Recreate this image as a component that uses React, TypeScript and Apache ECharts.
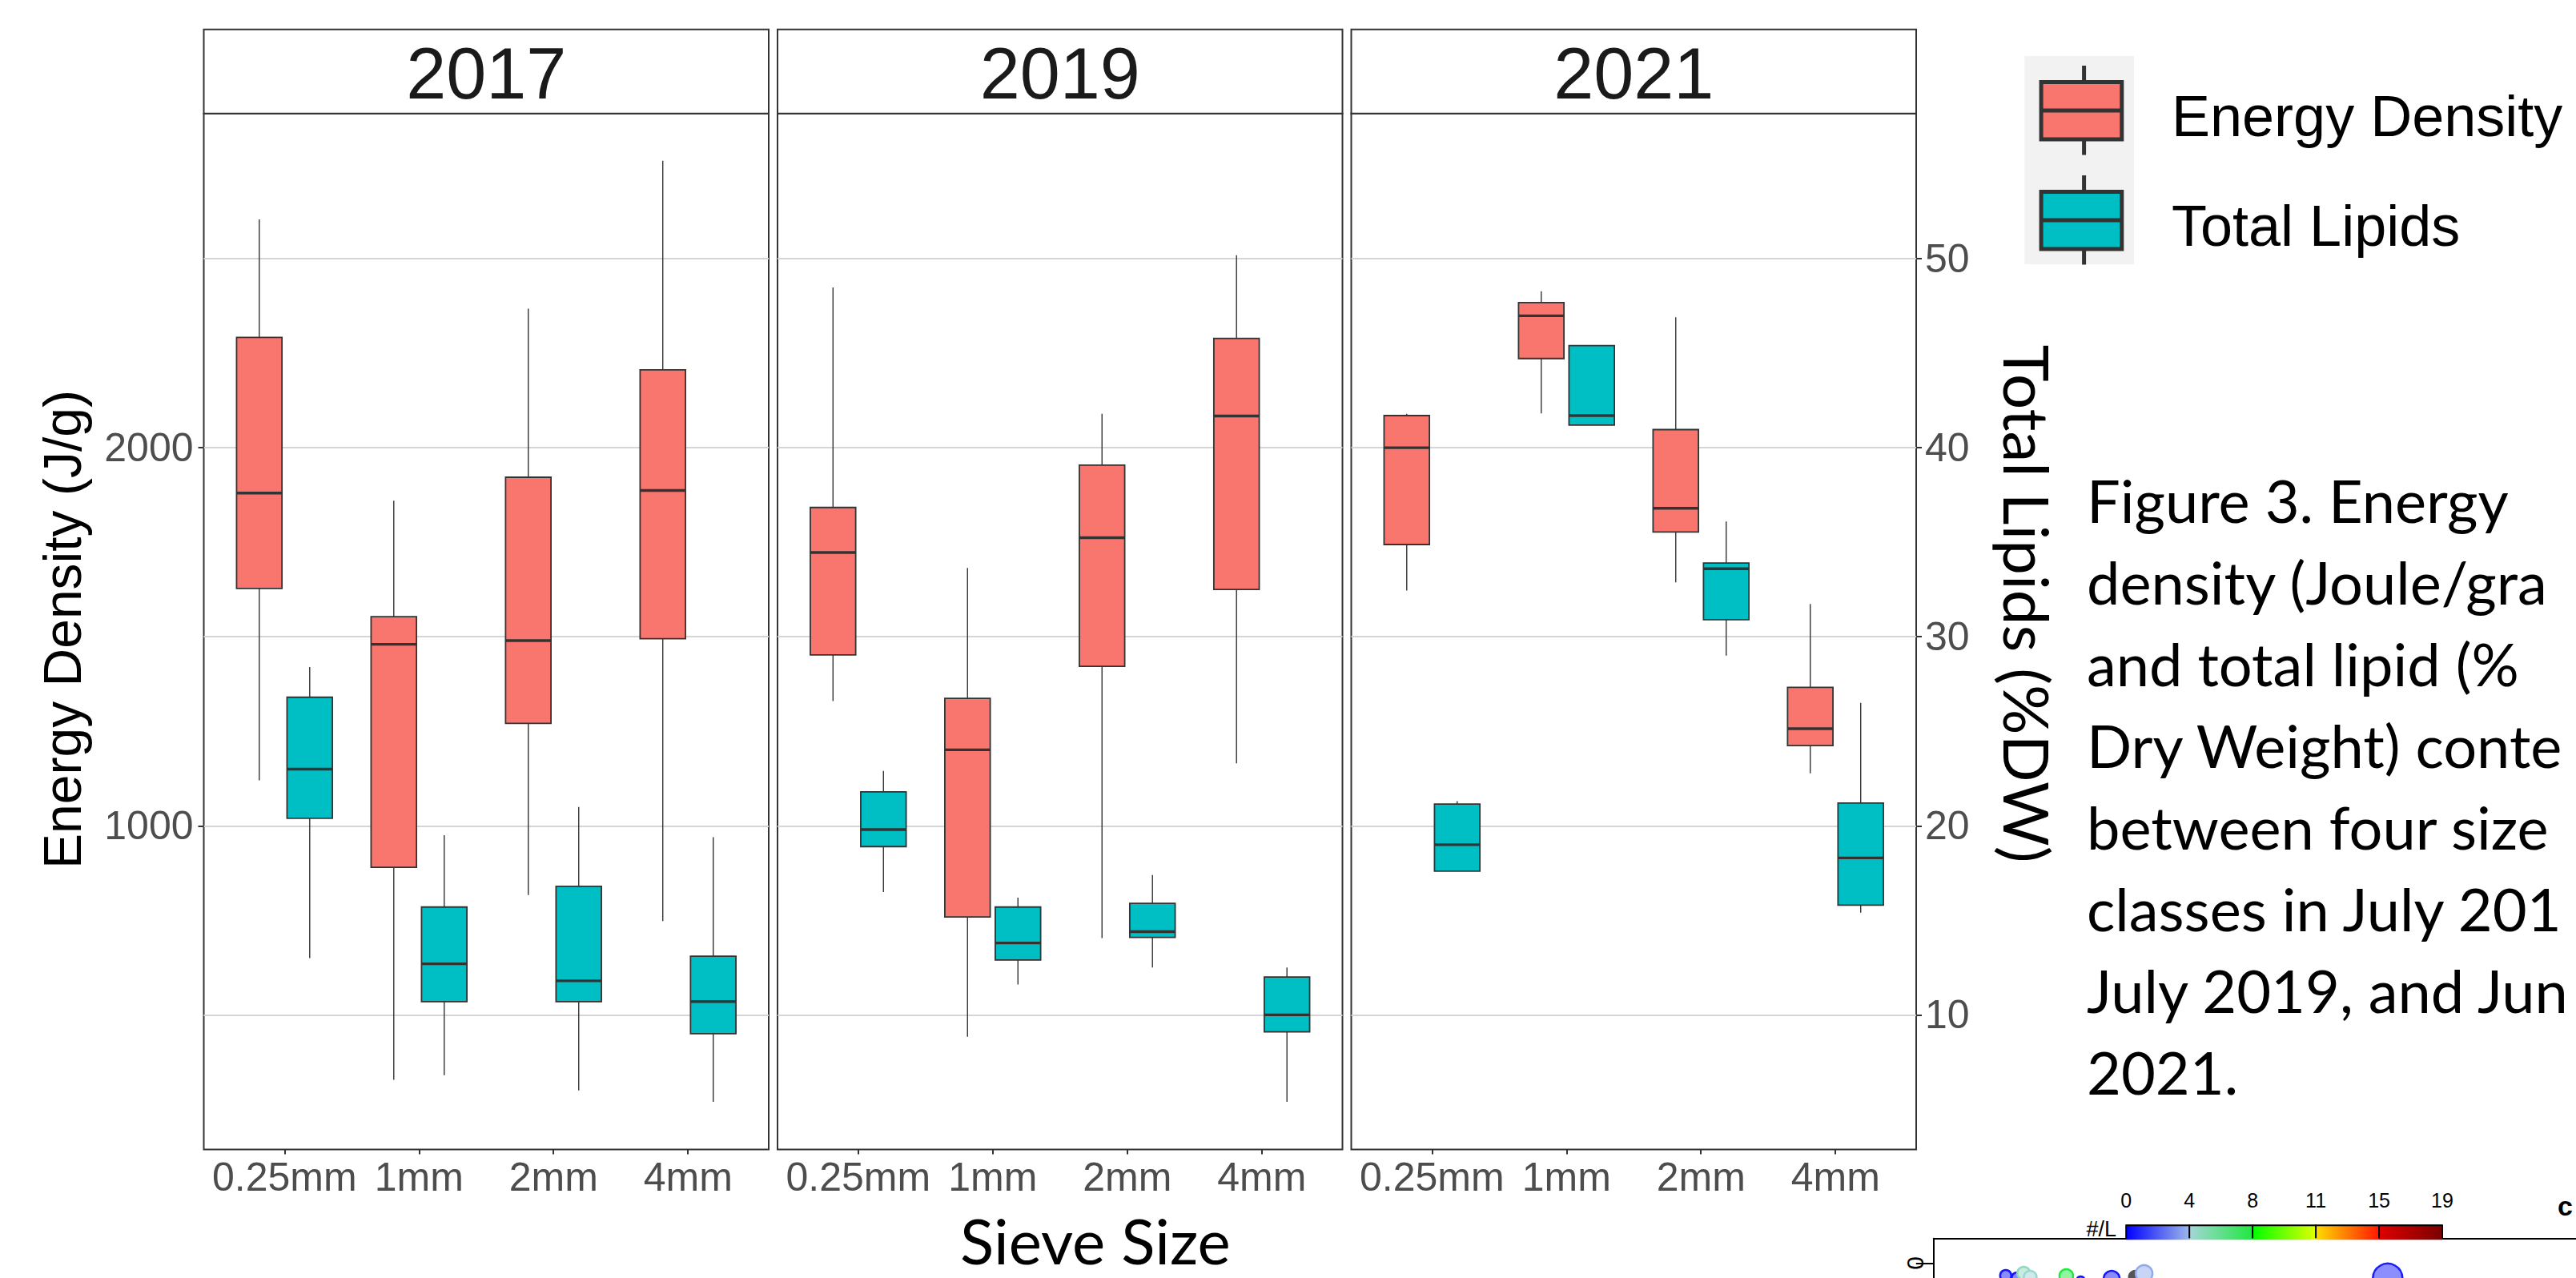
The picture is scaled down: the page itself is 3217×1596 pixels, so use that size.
import React, { useEffect, useRef } from 'react';
import * as echarts from 'echarts';

// ---------- data ----------
const years = ['2017', '2019', '2021'];
const sieveSizes = ['0.25mm', '1mm', '2mm', '4mm'];

// Five-number summaries per sieve size: [lower whisker, Q1, median, Q3, upper whisker]
// Energy density, J/g
const energy2017 = [
  [1120, 1628, 1880, 2292, 2604],
  [328, 890, 1480, 1553, 1860],
  [817, 1271, 1490, 1922, 2368],
  [748, 1495, 1887, 2206, 2759],
];
const energy2019 = [
  [1330, 1452, 1723, 1842, 2424],
  [442, 759, 1201, 1337, 1682],
  [703, 1422, 1762, 1954, 2090],
  [1165, 1625, 2084, 2289, 2509],
];
const energy2021 = [
  [1622, 1744, 2000, 2085, 2090],
  [2091, 2236, 2349, 2384, 2414],
  [1644, 1777, 1840, 2048, 2345],
  [1139, 1212, 1257, 1366, 1587],
];
// Total lipids, % dry weight
const lipids2017 = [
  [13.0, 20.4, 23.0, 26.8, 28.4],
  [6.8, 10.7, 12.7, 15.7, 19.5],
  [6.0, 10.7, 11.8, 16.8, 21.0],
  [5.4, 9.0, 10.7, 13.1, 19.4],
];
const lipids2019 = [
  [16.5, 18.9, 19.8, 21.8, 22.9],
  [11.6, 12.9, 13.8, 15.7, 16.2],
  [12.5, 14.1, 14.4, 15.9, 17.4],
  [5.4, 9.1, 10.0, 12.0, 12.5],
];
const lipids2021 = [
  [17.6, 17.6, 19.0, 21.15, 21.3],
  [41.2, 41.2, 41.7, 45.4, 45.4],
  [29.0, 30.9, 33.6, 33.9, 36.1],
  [15.4, 15.8, 18.3, 21.2, 26.5],
];

const energyByYear = [energy2017, energy2019, energy2021];
const lipidsByYear = [lipids2017, lipids2019, lipids2021];

// axis ranges (secondary axis = energy / 50)
const energyRange = [144, 2884];
const lipidScale = 50;
const energyTicks = [1000, 2000];
const lipidTicks = [10, 20, 30, 40, 50];

const legendLabels = ['Energy Density', 'Total Lipids'];

// caption lines as far as they run before the page edge
const captionLines = [
  'Figure 3. Energy',
  'density (Joule/gra',
  'and total lipid (%',
  'Dry Weight) conte',
  'between four size',
  'classes in July 201',
  'July 2019, and Jun',
  '2021.',
];

// neighbouring figure: colour key (#/L) and bubble points
const colorbarBreaks = [0, 4, 8, 11, 15, 19];
const colorbarRamp = [
  ['#0000FF', '#9DB8EA'],
  ['#A4D6D8', '#20E840'],
  ['#00FF00', '#E0FF00'],
  ['#FFDC00', '#FF1800'],
  ['#E00000', '#7A0000'],
];
// [position, depth, bubble size, density #/L (null = no value)]
const stationPoints: [number, number, number, number | null][] = [
  [10.0, 0.513, 14, 0.5],
  [11.6, 0.611, 14, 0.5],
  [12.5, 0.415, 16, 4.6],
  [13.4, 0.578, 16, 4.2],
  [18.4, 0.529, 17, 7.9],
  [20.4, 0.709, 10, 0.5],
  [24.7, 0.644, 20, 0.5],
  [28.0, 0.578, 16, null],
  [29.2, 0.431, 21, 3.7],
  [63.0, 0.627, 37, 0.6],
];

// ---------- layout / style ----------
const W = 3217;
const H = 1596;
const PANEL_LEFTS = [254.5, 971, 1687.5];
const PANEL_W = 705.5;
const PANEL_TOP = 141.8;
const PANEL_H = 1293.6;
const STRIP_TOP = 36.7;
const BOX_HALF = 0.16875;
const DODGE = 0.1875;
const RED = '#F8766D';
const CYAN = '#00BFC4';
const DARK = '#333333';
const TICK_TEXT = '#4D4D4D';
const GRID_LINE = '#D5D5D5';
const ARIAL = "'Liberation Sans', Arial, Helvetica, sans-serif";
const CALIBRI_LIKE = "Lato, 'Open Sans', 'Noto Sans', sans-serif";

function hexToRgb(h: string) {
  const n = parseInt(h.slice(1), 16);
  return [(n >> 16) & 255, (n >> 8) & 255, n & 255];
}
function rgbToHex(c: number[]) {
  return '#' + c.map((v) => Math.round(v).toString(16).padStart(2, '0')).join('');
}
function mix(a: string, b: string, t: number) {
  const ca = hexToRgb(a);
  const cb = hexToRgb(b);
  return rgbToHex(ca.map((v, i) => v + (cb[i] - v) * t));
}
function densityColor(d: number | null) {
  if (d === null) return '#555555';
  for (let i = 0; i < colorbarRamp.length; i++) {
    const lo = colorbarBreaks[i];
    const hi = colorbarBreaks[i + 1];
    if (d <= hi || i === colorbarRamp.length - 1) {
      const t = Math.max(0, Math.min(1, (d - lo) / (hi - lo)));
      return mix(colorbarRamp[i][0], colorbarRamp[i][1], t);
    }
  }
  return '#0000FF';
}

function boxRenderer(offset: number, fill: string) {
  return (_params: any, api: any) => {
    const x = api.value(0) + offset;
    const lo = api.value(1);
    const q1 = api.value(2);
    const med = api.value(3);
    const q3 = api.value(4);
    const hi = api.value(5);
    const left = api.coord([x - BOX_HALF, med])[0];
    const right = api.coord([x + BOX_HALF, med])[0];
    const cx = api.coord([x, med])[0];
    const yLo = api.coord([x, lo])[1];
    const yQ1 = api.coord([x, q1])[1];
    const yMed = api.coord([x, med])[1];
    const yQ3 = api.coord([x, q3])[1];
    const yHi = api.coord([x, hi])[1];
    const whisker = { stroke: DARK, lineWidth: 1.4, fill: 'none' };
    return {
      type: 'group',
      children: [
        { type: 'line', shape: { x1: cx, y1: yHi, x2: cx, y2: yQ3 }, style: whisker },
        { type: 'line', shape: { x1: cx, y1: yQ1, x2: cx, y2: yLo }, style: whisker },
        {
          type: 'rect',
          shape: { x: left, y: yQ3, width: right - left, height: yQ1 - yQ3 },
          style: { fill, stroke: DARK, lineWidth: 1.8 },
        },
        {
          type: 'line',
          shape: { x1: left, y1: yMed, x2: right, y2: yMed },
          style: { stroke: DARK, lineWidth: 3.4, fill: 'none' },
        },
      ],
    };
  };
}

function text(
  str: string,
  x: number,
  y: number,
  size: number,
  opts: { family?: string; color?: string; align?: string; vAlign?: string; rotation?: number; weight?: string } = {}
) {
  const align = opts.align || 'center';
  const vAlign = opts.vAlign || 'middle';
  return {
    type: 'text',
    x,
    y,
    rotation: opts.rotation || 0,
    silent: true,
    z: 10,
    style: {
      text: str,
      fontSize: size,
      fontFamily: opts.family || ARIAL,
      fontWeight: opts.weight || 'normal',
      fill: opts.color || '#000000',
      align,
      verticalAlign: vAlign,
      textAlign: align,
      textVerticalAlign: vAlign,
    },
  };
}

function buildOption() {
  const grids: any[] = [];
  const xAxes: any[] = [];
  const yAxes: any[] = [];
  const series: any[] = [];
  const tickLine = { color: DARK, width: 2 };

  years.forEach((_, g) => {
    grids.push({
      left: PANEL_LEFTS[g],
      top: PANEL_TOP,
      width: PANEL_W,
      height: PANEL_H,
      show: true,
      borderColor: DARK,
      borderWidth: 2,
      backgroundColor: 'transparent',
      containLabel: false,
      outerBoundsMode: 'none',
    });
    xAxes.push({
      type: 'value',
      gridIndex: g,
      min: -0.6,
      max: 3.6,
      axisLine: { show: false, onZero: false },
      axisTick: { show: true, customValues: [0, 1, 2, 3], length: 6, lineStyle: tickLine },
      axisLabel: {
        customValues: [0, 1, 2, 3],
        formatter: (v: number) => sieveSizes[Math.round(v)] ?? '',
        fontSize: 50,
        fontFamily: ARIAL,
        color: TICK_TEXT,
        margin: 10,
      },
      splitLine: { show: false },
    });
    // energy axis (left)
    yAxes.push({
      type: 'value',
      gridIndex: g,
      position: 'left',
      min: energyRange[0],
      max: energyRange[1],
      axisLine: { show: false, onZero: false },
      axisTick: { show: g === 0, customValues: energyTicks, length: 7, lineStyle: tickLine },
      axisLabel: {
        show: g === 0,
        customValues: energyTicks,
        formatter: (v: number) => String(v),
        fontSize: 50,
        fontFamily: ARIAL,
        color: TICK_TEXT,
        margin: 13,
      },
      splitLine: { show: false },
    });
    // lipid axis (right), its ticks carry the horizontal grid lines
    yAxes.push({
      type: 'value',
      gridIndex: g,
      position: 'right',
      min: energyRange[0] / lipidScale,
      max: energyRange[1] / lipidScale,
      axisLine: { show: false, onZero: false },
      axisTick: { show: g === 2, customValues: lipidTicks, length: 7, lineStyle: tickLine },
      axisLabel: {
        show: g === 2,
        customValues: lipidTicks,
        formatter: (v: number) => String(v),
        fontSize: 50,
        fontFamily: ARIAL,
        color: TICK_TEXT,
        margin: 11,
      },
      splitLine: { show: true, lineStyle: { color: GRID_LINE, width: 2 } },
    });

    series.push({
      type: 'custom',
      name: legendLabels[0],
      xAxisIndex: g,
      yAxisIndex: g * 2,
      silent: true,
      clip: false,
      z: 3,
      encode: { x: 0, y: [1, 2, 3, 4, 5] },
      data: energyByYear[g].map((v, i) => [i, ...v]),
      renderItem: boxRenderer(-DODGE, RED),
    });
    series.push({
      type: 'custom',
      name: legendLabels[1],
      xAxisIndex: g,
      yAxisIndex: g * 2 + 1,
      silent: true,
      clip: false,
      z: 3,
      encode: { x: 0, y: [1, 2, 3, 4, 5] },
      data: lipidsByYear[g].map((v, i) => [i, ...v]),
      renderItem: boxRenderer(DODGE, CYAN),
    });
  });

  // neighbouring depth plot (partly visible)
  grids.push({
    left: 2414.8,
    top: 1546.7,
    width: 900,
    height: 49.3,
    show: false,
    containLabel: false,
    outerBoundsMode: 'none',
  });
  xAxes.push({
    type: 'value',
    gridIndex: 3,
    position: 'top',
    min: 0,
    max: 100,
    axisLine: { show: true, onZero: false, lineStyle: { color: '#000', width: 2 } },
    axisTick: { show: false },
    axisLabel: { show: false },
    splitLine: { show: false },
  });
  yAxes.push({
    type: 'value',
    gridIndex: 3,
    inverse: true,
    min: -1,
    max: 0.611,
    axisLine: { show: true, onZero: false, lineStyle: { color: '#000', width: 2 } },
    axisTick: { show: true, customValues: [0], length: 22, lineStyle: { color: '#000', width: 2 } },
    axisLabel: { customValues: [0], rotate: 90, fontSize: 30, fontFamily: ARIAL, color: '#000', margin: 8 },
    splitLine: { show: false },
  });
  series.push({
    type: 'scatter',
    xAxisIndex: 3,
    yAxisIndex: 6,
    silent: true,
    clip: false,
    symbolSize: (v: number[]) => v[2],
    data: stationPoints.map((p) => {
      const c = densityColor(p[3]);
      return {
        value: [p[0], p[1], p[2]],
        itemStyle: {
          color: p[3] === null ? c : mix(c, '#FFFFFF', 0.5),
          borderColor: c,
          borderWidth: 2.5,
          opacity: 1,
        },
      };
    }),
  });

  // ---------- graphic overlays ----------
  const elements: any[] = [];

  // facet strips
  years.forEach((y, g) => {
    elements.push({
      type: 'rect',
      silent: true,
      shape: { x: PANEL_LEFTS[g], y: STRIP_TOP, width: PANEL_W, height: PANEL_TOP - STRIP_TOP },
      style: { fill: '#FFFFFF', stroke: DARK, lineWidth: 2 },
    });
    elements.push(text(y, PANEL_LEFTS[g] + PANEL_W / 2, 91.5, 90, { color: '#1A1A1A' }));
  });

  // axis titles
  elements.push(text('Energy Density (J/g)', 78, 786, 66, { rotation: Math.PI / 2 }));
  elements.push(text('Sieve Size', 1367.8, 1549, 78, { family: CALIBRI_LIKE }));
  elements.push(text('Total Lipids (%DW)', 2532, 754, 78, { family: CALIBRI_LIKE, rotation: -Math.PI / 2 }));

  // legend
  elements.push({
    type: 'rect',
    silent: true,
    shape: { x: 2528.4, y: 70, width: 136.6, height: 260 },
    style: { fill: '#F2F2F2' },
  });
  const keyTops = [82, 219];
  [RED, CYAN].forEach((fill, k) => {
    const t = keyTops[k];
    const cx = 2602.6;
    const stroke = { stroke: DARK, lineWidth: 5, fill: 'none' };
    elements.push({ type: 'line', silent: true, shape: { x1: cx, y1: t, x2: cx, y2: t + 20.5 }, style: stroke });
    elements.push({ type: 'line', silent: true, shape: { x1: cx, y1: t + 92, x2: cx, y2: t + 111.5 }, style: stroke });
    elements.push({
      type: 'rect',
      silent: true,
      shape: { x: 2549.1, y: t + 20.5, width: 100.7, height: 71.5 },
      style: { fill, stroke: DARK, lineWidth: 5 },
    });
    elements.push({
      type: 'line',
      silent: true,
      shape: { x1: 2549.1, y1: t + 56, x2: 2649.8, y2: t + 56 },
      style: stroke,
    });
    elements.push(text(legendLabels[k], 2712, [144.7, 281.7][k], 72, { align: 'left' }));
  });

  // figure caption
  captionLines.forEach((line, i) => {
    elements.push(text(line, 2606, 624 + i * 102.1, 74, { family: CALIBRI_LIKE, align: 'left' }));
  });

  // colour key of the neighbouring figure
  const cbX = 2655.2;
  const cbSeg = 78.96;
  const cbTop = 1529.3;
  const cbH = 19;
  colorbarRamp.forEach((pair, i) => {
    elements.push({
      type: 'rect',
      silent: true,
      z: 20,
      shape: { x: cbX + i * cbSeg, y: cbTop, width: cbSeg, height: cbH },
      style: {
        fill: new echarts.graphic.LinearGradient(0, 0, 1, 0, [
          { offset: 0, color: pair[0] },
          { offset: 1, color: pair[1] },
        ]),
      },
    });
  });
  elements.push({
    type: 'polyline',
    silent: true,
    z: 21,
    shape: {
      points: [
        [cbX, cbTop + cbH - 2],
        [cbX, cbTop + 1],
        [cbX + 5 * cbSeg, cbTop + 1],
        [cbX + 5 * cbSeg, cbTop + cbH - 2],
      ],
    },
    style: { stroke: '#000', lineWidth: 2, fill: 'none' },
  });
  for (let i = 1; i < 5; i++) {
    elements.push({
      type: 'line',
      silent: true,
      z: 21,
      shape: { x1: cbX + i * cbSeg, y1: cbTop, x2: cbX + i * cbSeg, y2: cbTop + cbH - 2 },
      style: { stroke: '#000', lineWidth: 2 },
    });
  }
  colorbarBreaks.forEach((b, i) => {
    elements.push(text(String(b), cbX + i * cbSeg, 1498.7, 25));
  });
  elements.push(text('#/L', 2643, 1534.5, 27, { align: 'right' }));
  elements.push(text('c', 3194, 1506, 34, { align: 'left', weight: 'bold' }));

  return {
    animation: false,
    backgroundColor: '#FFFFFF',
    textStyle: { fontFamily: ARIAL },
    grid: grids,
    xAxis: xAxes,
    yAxis: yAxes,
    series,
    graphic: { elements },
  };
}

export default function App() {
  const ref = useRef<HTMLDivElement>(null);
  useEffect(() => {
    if (!ref.current) return;
    const chart = echarts.init(ref.current, null, { renderer: 'svg' });
    chart.setOption(buildOption() as any);
    return () => {
      chart.dispose();
    };
  }, []);
  return (
    <div
      ref={ref}
      style={{ position: 'fixed', left: 0, top: 0, width: W, height: H, background: '#FFFFFF', overflow: 'hidden' }}
    />
  );
}
